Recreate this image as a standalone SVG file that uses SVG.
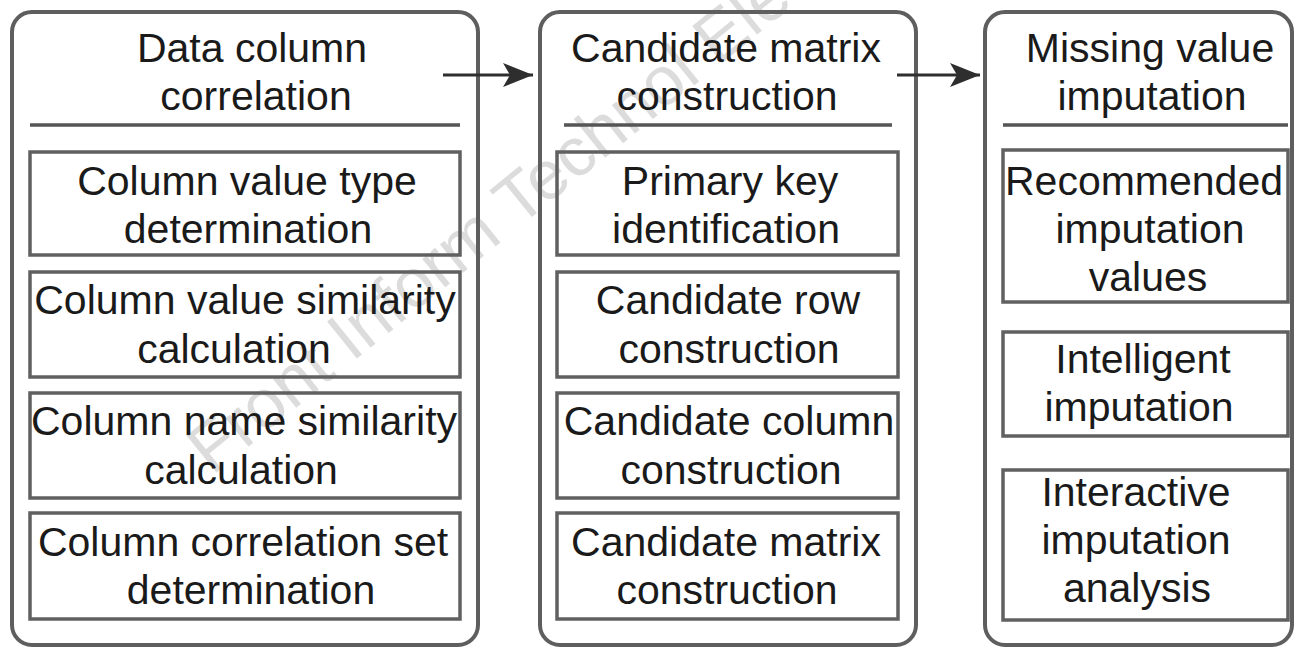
<svg xmlns="http://www.w3.org/2000/svg" width="1296" height="650" viewBox="0 0 1296 650">
  <defs>
    <style>
      .outer { fill: none; stroke: #5e5e5e; stroke-width: 4; }
      .inner { fill: none; stroke: #606060; stroke-width: 3.5; }
      .sep { stroke: #555555; stroke-width: 3.5; }
      .t { font-family: "Liberation Sans", Arial, sans-serif; font-size: 41px; fill: #1a1a1a; text-anchor: middle; }
      .wm { font-family: "Liberation Sans", Arial, sans-serif; font-size: 69px; fill: #dcdcdc; }
      .conn { stroke: #2e2e2e; stroke-width: 3; fill: none; }
    </style>
    <marker id="arrow" viewBox="-32 -14 34 28" refX="0" refY="0" markerWidth="34" markerHeight="28" markerUnits="userSpaceOnUse" orient="auto">
      <path d="M0,0 L-30,-12 L-23,0 L-30,12 Z" fill="#2e2e2e"/>
    </marker>
  </defs>
  <rect width="1296" height="650" fill="#ffffff"/>

  <text class="wm" transform="translate(212,476) rotate(-39)">Front Inform Technol Elec</text>

  <g id="stage1">
    <rect class="outer" x="12" y="12" width="466" height="633" rx="20"/>
    <text class="t" x="252" y="62">Data column</text>
    <text class="t" x="256" y="110">correlation</text>
    <line class="sep" x1="30" y1="125" x2="460" y2="125"/>
    <g id="s1a">
      <rect class="inner" x="30" y="152" width="430" height="103"/>
      <text class="t" x="247" y="195">Column value type</text>
      <text class="t" x="248" y="243">determination</text>
    </g>
    <g id="s1b">
      <rect class="inner" x="30" y="272" width="430" height="105"/>
      <text class="t" x="245" y="314">Column value similarity</text>
      <text class="t" x="234" y="363">calculation</text>
    </g>
    <g id="s1c">
      <rect class="inner" x="30" y="393" width="430" height="105"/>
      <text class="t" x="244" y="435">Column name similarity</text>
      <text class="t" x="241" y="484">calculation</text>
    </g>
    <g id="s1d">
      <rect class="inner" x="30" y="513" width="430" height="106"/>
      <text class="t" x="243" y="556">Column correlation set</text>
      <text class="t" x="251" y="604">determination</text>
    </g>
  </g>

  <g id="stage2">
    <rect class="outer" x="540" y="12" width="376" height="633" rx="20"/>
    <text class="t" x="726" y="62">Candidate matrix</text>
    <text class="t" x="727" y="110">construction</text>
    <line class="sep" x1="564" y1="125" x2="892" y2="125"/>
    <g id="s2a">
      <rect class="inner" x="557" y="152" width="341" height="103"/>
      <text class="t" x="730" y="195">Primary key</text>
      <text class="t" x="726" y="243">identification</text>
    </g>
    <g id="s2b">
      <rect class="inner" x="557" y="272" width="341" height="105"/>
      <text class="t" x="728" y="314">Candidate row</text>
      <text class="t" x="729" y="363">construction</text>
    </g>
    <g id="s2c">
      <rect class="inner" x="557" y="393" width="341" height="105"/>
      <text class="t" x="729" y="435">Candidate column</text>
      <text class="t" x="731" y="484">construction</text>
    </g>
    <g id="s2d">
      <rect class="inner" x="557" y="513" width="341" height="106"/>
      <text class="t" x="726" y="556">Candidate matrix</text>
      <text class="t" x="727" y="604">construction</text>
    </g>
  </g>

  <g id="stage3">
    <rect class="outer" x="985" y="12" width="307" height="633" rx="20"/>
    <text class="t" x="1150" y="62">Missing value</text>
    <text class="t" x="1152" y="110">imputation</text>
    <line class="sep" x1="1003" y1="125" x2="1288" y2="125"/>
    <g id="s3a">
      <rect class="inner" x="1003" y="150" width="285" height="152"/>
      <text class="t" x="1144" y="195">Recommended</text>
      <text class="t" x="1150" y="243">imputation</text>
      <text class="t" x="1148" y="291">values</text>
    </g>
    <g id="s3b">
      <rect class="inner" x="1003" y="332" width="285" height="104"/>
      <text class="t" x="1143" y="373">Intelligent</text>
      <text class="t" x="1139" y="421">imputation</text>
    </g>
    <g id="s3c">
      <rect class="inner" x="1003" y="470" width="285" height="150"/>
      <text class="t" x="1136" y="506">Interactive</text>
      <text class="t" x="1136" y="554">imputation</text>
      <text class="t" x="1137" y="602">analysis</text>
    </g>
  </g>

  <g id="connectors">
    <line class="conn" x1="443" y1="75" x2="533" y2="75" marker-end="url(#arrow)"/>
    <line class="conn" x1="897" y1="75" x2="980" y2="75" marker-end="url(#arrow)"/>
  </g>
</svg>
